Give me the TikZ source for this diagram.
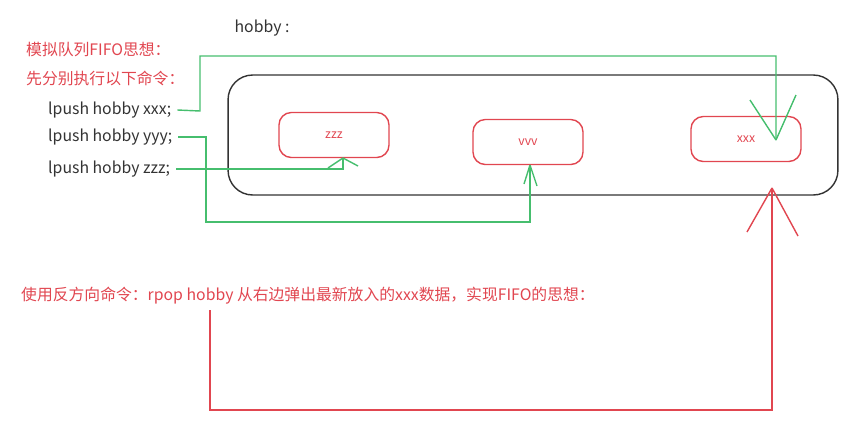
\documentclass[tikz,border=0pt]{standalone}
\usepackage{fontspec}
\setmainfont{Noto Sans CJK SC}
\usetikzlibrary{arrows.meta, calc}
\definecolor{penred}{RGB}{225,70,80}
\definecolor{pengreen}{RGB}{70,190,110}
\tikzset{
    my-box/.style={draw=penred, thick, rounded corners=7pt, minimum width=2.2cm, minimum height=0.9cm, text=penred, font=\scriptsize},
    my-cmd/.style={anchor=west, font=\small, text=black!80},
    my-green/.style={draw=pengreen, thick},
    my-red/.style={draw=penred, thick},
}
\begin{document}
\begin{tikzpicture}[x=0.02cm, y=-0.02cm]
        \useasboundingbox (0,0) rectangle (850,434);

        % TITLES
        \node[font=\small, text=black!80] (HOBBY) at (262,28) {hobby :};
        \node[anchor=west, font=\small, text=penred] (T1) at (20,50) {模拟队列FIFO思想：};
        \node[anchor=west, font=\small, text=penred] (T2) at (20,78) {先分别执行以下命令：};

        % COMMANDS
        \node[my-cmd] (C1) at (42,110) {lpush hobby xxx;};
        \node[my-cmd] (C2) at (42,137) {lpush hobby yyy;};
        \node[my-cmd] (C3) at (42,169) {lpush hobby zzz;};

        % LIST AND ELEMENTS
        \node[draw=black!80, thick, rounded corners=14pt, minimum width=12.2cm, minimum height=2.4cm] (LIST) at (533,135) {};
        \node[my-box] (ZZZ) at (334,135) {zzz};
        \node[my-box] (YYY) at (528,142) {vvv};
        \node[my-box] (XXX) at (746,139) {xxx};

        % GREEN CONNECTOR POINTS
        \coordinate (G1A) at (200,111);
        \coordinate (G1B) at (200,56);
        \coordinate (G1C) at (776,56);
        \coordinate (G2A) at (206,137);
        \coordinate (G2B) at (206,222);
        \coordinate (G2C) at (530,222);
        \coordinate (G3A) at (343,169);
        \draw[my-green] (C1.east) -- (G1A) -- (G1B) -- (G1C) -- (776,140);
        \draw[my-green] (776,140) -- (750,100) (776,140) -- (796,95);
        \draw[my-green] (C2.east) -- (G2A) -- (G2B) -- (G2C) -- (YYY.south -| G2C);
        \draw[my-green] (530,165) -- (524,184) (530,165) -- (537,186);
        \draw[my-green] (C3.east) -- (G3A) -- (ZZZ.south -| G3A);
        \draw[my-green] (343,158) -- (328,168) (343,158) -- (358,166);

        % RPOP
        \node[anchor=west, font=\small, text=penred] (T3) at (15,296) {使用反方向命令：rpop hobby 从右边弹出最新放入的xxx数据，实现FIFO的思想：};
        \coordinate (R1) at (210,310);
        \coordinate (R2) at (210,410);
        \coordinate (R3) at (772,410);
        \coordinate (R4) at (772,188);
        \draw[my-red] (R1) -- (R2) -- (R3) -- (R4);
        \draw[my-red] (R4) -- (747,232) (R4) -- (798,236);

    \end{tikzpicture}
\end{document}
